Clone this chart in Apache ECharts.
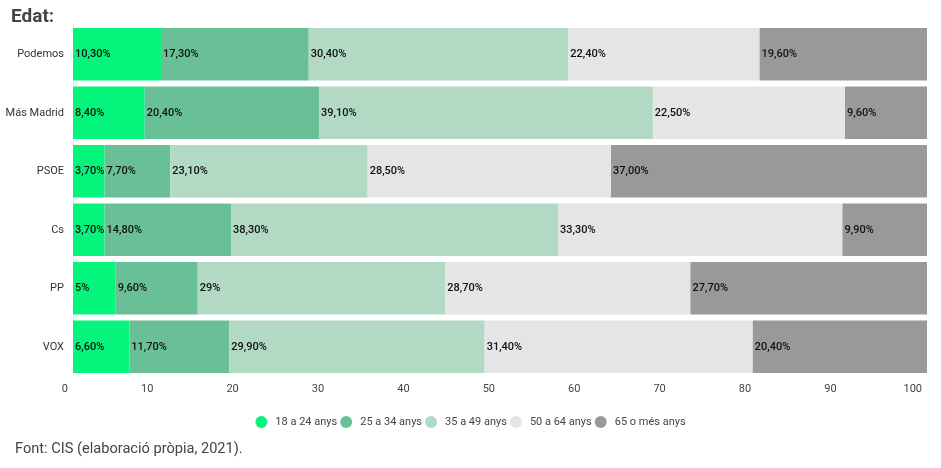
<!DOCTYPE html>
<html>
<head>
<meta charset="utf-8">
<script src="https://cdn.jsdelivr.net/npm/echarts@6/dist/echarts.min.js"></script>
<style>
  html, body { margin: 0; padding: 0; background: #fff; }
  #chart { width: 941px; height: 468px; }
</style>
</head>
<body>
<div id="chart"></div>
<script>
// partits, de dalt a baix
const parties = ["Podemos", "Más Madrid", "PSOE", "Cs", "PP", "VOX"];
const ageGroups = ["18 a 24 anys", "25 a 34 anys", "35 a 49 anys", "50 a 64 anys", "65 o més anys"];
const ageColors = ["#05f57c", "#69c096", "#b1d9c4", "#e5e5e5", "#999999"];

// valors tal com surten a les etiquetes (alguns sense decimals)
const age18to24 = ["10.30", "8.40", "3.70", "3.70", "5", "6.60"];
const age25to34 = ["17.30", "20.40", "7.70", "14.80", "9.60", "11.70"];
const age35to49 = ["30.40", "39.10", "23.10", "38.30", "29", "29.90"];
const age50to64 = ["22.40", "22.50", "28.50", "33.30", "28.70", "31.40"];
const age65plus = ["19.60", "9.60", "37.00", "9.90", "27.70", "20.40"];

const xTicks = [0, 10, 20, 30, 40, 50, 60, 70, 80, 90, 100];

const allSeries = [age18to24, age25to34, age35to49, age50to64, age65plus];

const chart = echarts.init(document.getElementById("chart"));

const option = {
    animation: false,
    textStyle: { fontFamily: "Roboto" },
    title: [
        {
            text: "Edat:",
            left: 6, top: 3,
            textStyle: { fontSize: 19, fontWeight: "bold", color: "#444", fontFamily: "Roboto" }
        },
        {
            text: "Font: CIS (elaboració pròpia, 2021).",
            left: 10, top: 437,
            textStyle: { fontSize: 14.6, fontWeight: "normal", color: "#444", fontFamily: "Roboto" }
        }
    ],
    legend: {
        bottom: 35,
        left: "center",
        icon: "circle",
        itemWidth: 12,
        itemHeight: 12,
        itemGap: 3,
        textStyle: { fontSize: 11, color: "#444", padding: [0, 0, 0, 3] },
        data: ageGroups
    },
    grid: { left: 73, right: 14, top: 25, bottom: 92 },
    xAxis: {
        type: "value",
        min: 0, max: 100, interval: 10,
        splitLine: { show: false },
        axisLine: { show: false },
        axisTick: { show: false },
        axisLabel: {
            color: "#444", fontSize: 11, align: "right",
            padding: [0, 5, 0, 0], margin: 8,
            customValues: xTicks
        }
    },
    yAxis: {
        type: "category",
        inverse: true,
        data: parties,
        axisLine: { show: true, lineStyle: { color: "#e8e8e8" } },
        axisTick: { show: false },
        axisLabel: { color: "#333", fontSize: 11, margin: 9 }
    },
    series: allSeries.map((values, i) => ({
        name: ageGroups[i],
        type: "bar",
        stack: "edat",
        barCategoryGap: "10%",
        itemStyle: { color: ageColors[i] },
        label: {
            show: true,
            position: "insideLeft",
            distance: 2,
            color: "#111",
            fontSize: 11,
            fontWeight: 500,
            formatter: (p) => String(values[p.dataIndex]).replace(".", ",") + "%"
        },
        data: values.map(Number)
    }))
};

chart.setOption(option);
</script>
</body>
</html>
